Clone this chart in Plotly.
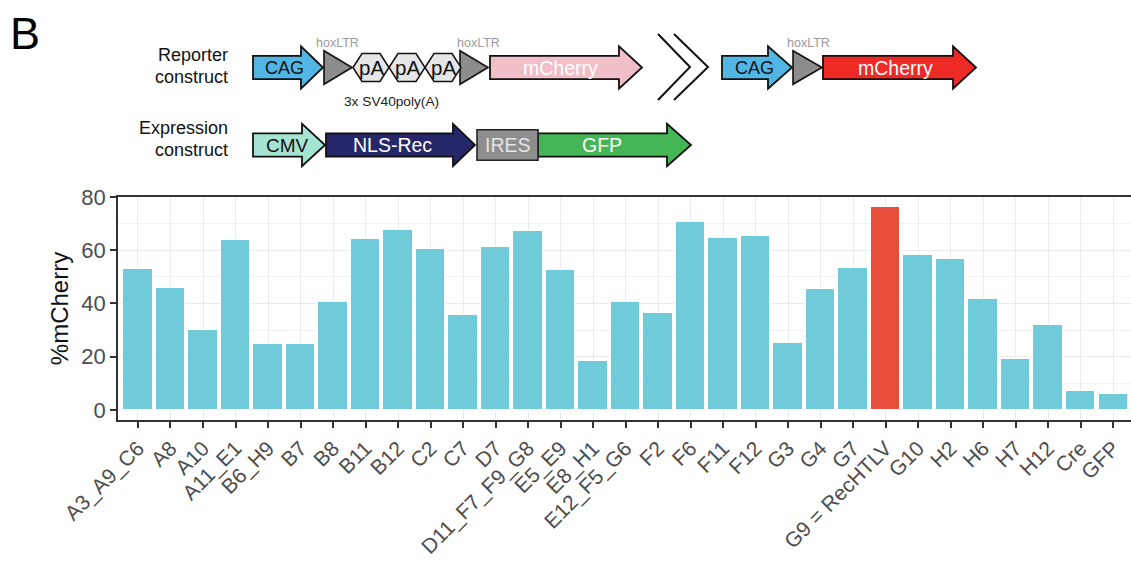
import plotly.graph_objects as go

# ---------------- data ----------------
categories = ["A3_A9_C6", "A8", "A10", "A11_E1", "B6_H9", "B7", "B8", "B11", "B12",
              "C2", "C7", "D7", "D11_F7_F9_G8", "E5_E9", "E8_H1", "E12_F5_G6", "F2",
              "F6", "F11", "F12", "G3", "G4", "G7", "G9 = RecHTLV", "G10", "H2", "H6",
              "H7", "H12", "Cre", "GFP"]
values = [52.9, 45.7, 30.1, 64.0, 24.7, 24.8, 40.5, 64.3, 67.6,
          60.6, 35.5, 61.4, 67.2, 52.7, 18.4, 40.5, 36.3,
          70.6, 64.6, 65.2, 25.3, 45.6, 53.4, 76.1, 58.1, 56.6, 41.6,
          19.3, 32.0, 7.2, 6.0]
highlighted = ["G9 = RecHTLV"]
y_ticks = [0, 20, 40, 60, 80]
y_title = "%mCherry"

BAR_COLOR = "#6FCBD9"
HL_COLOR = "#E84C3A"
FONT = "Liberation Sans, Arial, sans-serif"

# ---------------- schematic spec (pixel layout) ----------------
W, H = 1131, 561
ROW1, ROW2 = 67.5, 145.0

# arrows: (x0, head base, tip, row center, fill, label, label x, label colour, font size)
arrows = [
    (253, 301, 323, ROW1, "#52B6E5", "CAG", 284, "#111111", 18),
    (490, 619, 642, ROW1, "#F1BFC8", "mCherry", 560, "#FFFFFF", 19.5),
    (722, 768, 792, ROW1, "#52B6E5", "CAG", 754, "#111111", 18),
    (823, 953, 976, ROW1, "#EE2A26", "mCherry", 895, "#FFFFFF", 19.5),
    (253, 302, 325, ROW2, "#A5E3D3", "CMV", 287, "#111111", 19),
    (326, 453, 475, ROW2, "#262769", "NLS-Rec", 392, "#FFFFFF", 19.5),
    (538, 667, 691, ROW2, "#44B655", "GFP", 602, "#FFFFFF", 19.5),
]
triangles = [(324, 352, ROW1), (460, 488, ROW1), (793, 822, ROW1)]
hexagons = [(353, 389, ROW1), (389, 425, ROW1), (425, 461, ROW1)]
hex_label = "pA"
ires_box = (477, 538, ROW2, "IRES")
hox_labels = [(337, 42.5), (478, 42.5), (808, 42.5)]
row_labels = [("Reporter", 55), ("construct", 76.5), ("Expression", 128.5), ("construct", 150)]
break_marks = [(658, 690, 34, 100), (674, 708, 34, 100)]


def px(x):
    return x / W


def py(y):
    return 1 - y / H


def path(points):
    return "M " + " L ".join(f"{px(x):.5f},{py(y):.5f}" for x, y in points) + " Z"


def open_path(points):
    return "M " + " L ".join(f"{px(x):.5f},{py(y):.5f}" for x, y in points)


shapes = []
annotations = []

BH, HH = 11.7, 21.2
for x0, xh, tip, cy, fill, lab, lx, lc, fs in arrows:
    pts = [(x0, cy - BH), (xh, cy - BH), (xh, cy - HH), (tip, cy), (xh, cy + HH),
           (xh, cy + BH), (x0, cy + BH)]
    shapes.append(dict(type="path", path=path(pts), xref="paper", yref="paper",
                       fillcolor=fill, line=dict(color="#111111", width=1.8)))
    annotations.append(dict(x=px(lx), y=py(cy), text=lab, showarrow=False,
                            xref="paper", yref="paper", xanchor="center", yanchor="middle",
                            font=dict(family=FONT, size=fs, color=lc)))

for a, b, cy in triangles:
    pts = [(a, cy - 16.8), (b, cy), (a, cy + 16.8)]
    shapes.append(dict(type="path", path=path(pts), xref="paper", yref="paper",
                       fillcolor="#8C8C8C", line=dict(color="#111111", width=1.6)))

for a, b, cy in hexagons:
    pts = [(a, cy), (a + 9, cy - 14), (b - 9, cy - 14), (b, cy), (b - 9, cy + 14), (a + 9, cy + 14)]
    shapes.append(dict(type="path", path=path(pts), xref="paper", yref="paper",
                       fillcolor="#E6E6E6", line=dict(color="#111111", width=1.5)))
    annotations.append(dict(x=px((a + b) / 2), y=py(cy), text=hex_label, showarrow=False,
                            xref="paper", yref="paper", xanchor="center", yanchor="middle",
                            font=dict(family=FONT, size=20.5, color="#111111")))

ia, ib, icy, ilab = ires_box
shapes.append(dict(type="rect", xref="paper", yref="paper", x0=px(ia), x1=px(ib),
                   y0=py(icy + 15.3), y1=py(icy - 15.3), fillcolor="#8E8E8E",
                   line=dict(color="#222222", width=1.6)))
annotations.append(dict(x=px((ia + ib) / 2), y=py(icy), text=ilab, showarrow=False,
                        xref="paper", yref="paper", xanchor="center", yanchor="middle",
                        font=dict(family=FONT, size=19.5, color="#E4E4E4")))

for a, b, t, bt in break_marks:
    pts = [(a, t), (b, (t + bt) / 2), (a, bt)]
    shapes.append(dict(type="path", path=open_path(pts), xref="paper", yref="paper",
                       line=dict(color="#111111", width=2)))

for x, y in hox_labels:
    annotations.append(dict(x=px(x), y=py(y), text="hoxLTR", showarrow=False,
                            xref="paper", yref="paper", xanchor="center", yanchor="middle",
                            font=dict(family=FONT, size=12.5, color="#9A9A9A")))

annotations.append(dict(x=px(391), y=py(101.5), text="3x SV40poly(A)", showarrow=False,
                        xref="paper", yref="paper", xanchor="center", yanchor="middle",
                        font=dict(family=FONT, size=13.7, color="#222222")))

for txt, y in row_labels:
    annotations.append(dict(x=px(230), y=py(y), text=txt, showarrow=False,
                            xref="paper", yref="paper", xanchor="right", yanchor="middle",
                            font=dict(family=FONT, size=18, color="#111111")))

annotations.append(dict(x=px(8), y=py(34), text="B", showarrow=False,
                        xref="paper", yref="paper", xanchor="left", yanchor="middle",
                        font=dict(family=FONT, size=45, color="#000000")))

# ---------------- figure ----------------
colors = [HL_COLOR if c in highlighted else BAR_COLOR for c in categories]

fig = go.Figure()
fig.add_trace(go.Bar(x=categories, y=values, width=0.9,
                     marker=dict(color=colors, line=dict(color="#FFFFFF", width=1)),
                     showlegend=False, hoverinfo="x+y"))

fig.update_layout(
    width=W, height=H,
    margin=dict(l=0, r=0, t=0, b=0, autoexpand=False),
    paper_bgcolor="white", plot_bgcolor="white",
    font=dict(family=FONT),
    shapes=shapes, annotations=annotations,
    bargap=0,
    xaxis=dict(
        domain=[118 / W, 1.0],
        automargin=False,
        type="category",
        categoryorder="array", categoryarray=categories,
        range=[-0.615, 30.55],
        tickangle=-45,
        tickfont=dict(family=FONT, size=21, color="#4D4D4D"),
        ticks="outside", ticklen=6, tickwidth=1.5, tickcolor="#333333",
        showline=True, linecolor="#333333", linewidth=1.5, mirror=True,
        showgrid=True, gridcolor="#EBEBEB", gridwidth=1.3,
        anchor="y",
    ),
    yaxis=dict(
        domain=[(H - 420) / H, (H - 197) / H],
        automargin=False,
        range=[-3.76, 80],
        tickvals=y_ticks,
        tickfont=dict(family=FONT, size=22, color="#4D4D4D"),
        ticks="outside", ticklen=6, tickwidth=1.5, tickcolor="#333333",
        showline=True, linecolor="#333333", linewidth=1.5, mirror=False,
        showgrid=True, gridcolor="#EBEBEB", gridwidth=1.3,
        minor=dict(dtick=10, tick0=0, showgrid=True, gridcolor="#F1F1F1", gridwidth=0.7),
        zeroline=False,
        title=dict(text=y_title, font=dict(family=FONT, size=24, color="#111111"), standoff=6),
        anchor="x",
    ),
)

fig.write_html("out.html", config={"displayModeBar": False},
               post_script="document.body.style.margin='0';document.body.style.overflow='hidden';")
